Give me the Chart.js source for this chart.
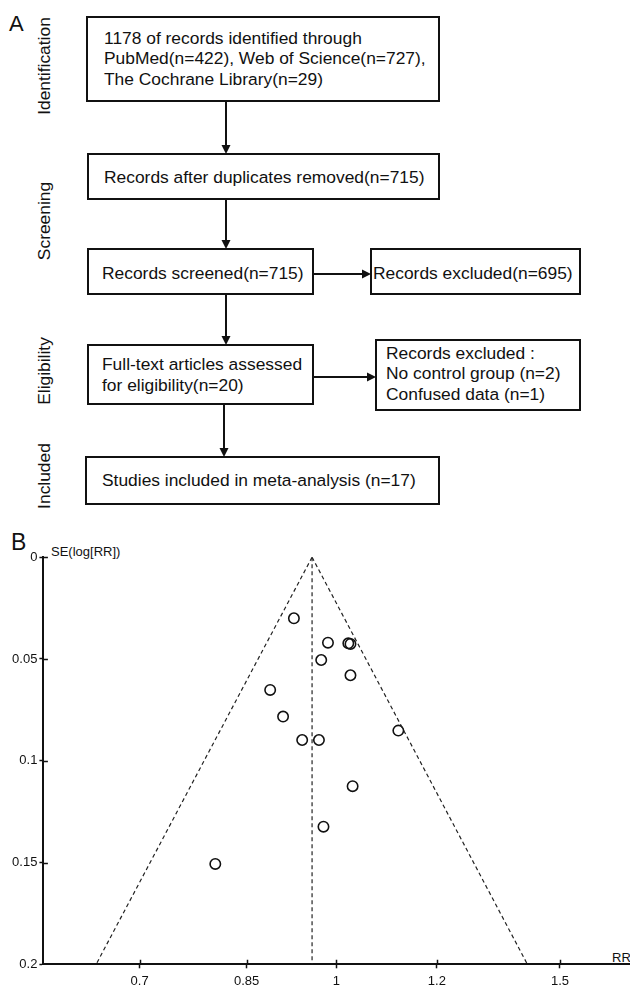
<!DOCTYPE html>
<html>
<head>
<meta charset="utf-8">
<script src="https://cdn.jsdelivr.net/npm/chart.js@4.4.1/dist/chart.umd.min.js"></script>
<style>
  html, body { margin:0; padding:0; background:#fff; }
  body { width:630px; height:986px; position:relative; overflow:hidden;
         font-family:"Liberation Sans", Arial, Helvetica, sans-serif; color:#111; }
  .box { position:absolute; border:2px solid #111; box-sizing:border-box; }
  .t { position:absolute; font-size:17.4px; line-height:20.5px; white-space:nowrap; }
  .side { position:absolute; left:44px; font-size:17.4px; line-height:20px; white-space:nowrap;
          transform: translate(-50%,-50%) rotate(-90deg); }
  .panel { position:absolute; font-size:22px; line-height:22px; }
  .lbl { position:absolute; font-size:13px; line-height:14px; white-space:nowrap; }
  #plotWrap { position:absolute; left:0; top:530px; width:630px; height:456px; }
</style>
</head>
<body>
<!-- Panel A: flow diagram -->
<div class="panel" style="left:9px; top:13px;">A</div>
<div class="side" style="top:66px;">Identification</div>
<div class="side" style="top:221px;">Screening</div>
<div class="side" style="top:371px;">Eligibility</div>
<div class="side" style="top:476px;">Included</div>

<div class="box" style="left:86px; top:16px; width:354px; height:86px;"></div>
<div class="t" style="left:104px; top:27.5px;">1178 of records identified through<br>PubMed(n=422), Web of Science(n=727),<br>The Cochrane Library(n=29)</div>

<div class="box" style="left:87px; top:153px; width:353px; height:47px;"></div>
<div class="t" style="left:104px; top:166.5px;">Records after duplicates removed(n=715)</div>

<div class="box" style="left:87px; top:248px; width:227px; height:47px;"></div>
<div class="t" style="left:102px; top:262.5px;">Records screened(n=715)</div>

<div class="box" style="left:370px; top:248px; width:211px; height:47px;"></div>
<div class="t" style="left:373px; top:262.5px;">Records excluded(n=695)</div>

<div class="box" style="left:87px; top:344px; width:227px; height:61px;"></div>
<div class="t" style="left:102px; top:353.5px; line-height:21px;">Full-text articles assessed<br>for eligibility(n=20)</div>

<div class="box" style="left:375px; top:339px; width:206px; height:72px;"></div>
<div class="t" style="left:386px; top:342.5px;">Records excluded :<br>No control group (n=2)<br>Confused data (n=1)</div>

<div class="box" style="left:85px; top:456px; width:355px; height:49px;"></div>
<div class="t" style="left:102px; top:469.5px;">Studies included in meta-analysis (n=17)</div>

<svg width="630" height="530" style="position:absolute; left:0; top:0;" xmlns="http://www.w3.org/2000/svg">
  <g stroke="#111" stroke-width="2" fill="none">
    <line x1="226" y1="101" x2="226" y2="146"/>
    <line x1="226" y1="199" x2="226" y2="241"/>
    <line x1="226" y1="294" x2="226" y2="337"/>
    <line x1="224" y1="404" x2="224" y2="449"/>
    <line x1="313" y1="274" x2="363" y2="274"/>
    <line x1="313" y1="377" x2="368" y2="377"/>
  </g>
  <g fill="#111">
    <polygon points="221.5,145 230.5,145 226,154"/>
    <polygon points="221.5,240 230.5,240 226,249"/>
    <polygon points="221.5,336 230.5,336 226,345"/>
    <polygon points="219.5,448 228.5,448 224,457"/>
    <polygon points="362,269.5 362,278.5 371,274"/>
    <polygon points="367,372.5 367,381.5 376,377"/>
  </g>
</svg>

<!-- Panel B: funnel plot -->
<div class="panel" style="left:11px; top:531px; font-size:23px;">B</div>
<div class="lbl" style="left:51px; top:545px;">SE(log[RR])</div>
<div class="lbl" style="left:612px; top:951px;">RR</div>
<div id="plotWrap"><canvas id="c"></canvas></div>

<script>
// ---- data ----
const studyRR = [0.926, 0.985, 1.022, 1.026, 0.973, 1.026, 0.887, 0.908, 1.119, 0.940, 0.969, 1.030, 0.977, 0.803];
const studySE = [0.0300, 0.0420, 0.0423, 0.0426, 0.0505, 0.0580, 0.0652, 0.0783, 0.0852, 0.0898, 0.0898, 0.1125, 0.1324, 0.1507];
const pooledRR = 0.957;
const funnelTopSE = 0;
const funnelBottomSE = 0.2;
const funnelLeftRR = 0.647;
const funnelRightRR = 1.414;
const xTicks = [0.7, 0.85, 1, 1.2, 1.5];
const xTickLabels = ['0.7', '0.85', '1', '1.2', '1.5'];
const yTicks = [0, 0.05, 0.1, 0.15, 0.2];
const yTickLabels = ['0', '0.05', '0.1', '0.15', '0.2'];
const xMin = 0.588, xMax = 1.70;

const points = studyRR.map((r, i) => ({ x: r, y: studySE[i] }));

const innerTicks = {
  id: 'innerTicks',
  afterDraw(chart) {
    const { ctx, chartArea, scales } = chart;
    ctx.save();
    ctx.strokeStyle = '#111';
    ctx.lineWidth = 1.5;
    ctx.beginPath();
    xTicks.forEach(v => {
      const px = Math.round(scales.x.getPixelForValue(v)) + 0.5;
      ctx.moveTo(px, chartArea.bottom);
      ctx.lineTo(px, chartArea.bottom - 4.5);
    });
    yTicks.forEach((v, i) => {
      if (i === yTicks.length - 1) return;
      const py = Math.round(scales.y.getPixelForValue(v)) + 0.5;
      ctx.moveTo(chartArea.left, py);
      ctx.lineTo(chartArea.left + 4.5, py);
    });
    ctx.stroke();
    ctx.restore();
  }
};

const font13 = { family: '"Liberation Sans", Arial, sans-serif', size: 13 };
const dashLine = {
  showLine: true, pointRadius: 0, borderColor: '#222', borderWidth: 1.2,
  borderDash: [4, 3], fill: false
};

new Chart(document.getElementById('c'), {
  type: 'scatter',
  data: {
    datasets: [
      Object.assign({ data: [{ x: pooledRR, y: funnelTopSE }, { x: pooledRR, y: funnelBottomSE }] }, dashLine),
      Object.assign({ data: [{ x: pooledRR, y: funnelTopSE }, { x: funnelLeftRR, y: funnelBottomSE }] }, dashLine),
      Object.assign({ data: [{ x: pooledRR, y: funnelTopSE }, { x: funnelRightRR, y: funnelBottomSE }] }, dashLine),
      {
        data: points, showLine: false, pointStyle: 'circle', pointRadius: 5.2,
        pointBorderWidth: 1.6, pointBorderColor: '#111', pointBackgroundColor: 'rgba(255,255,255,0)'
      }
    ]
  },
  options: {
    responsive: true, maintainAspectRatio: false, animation: false,
    layout: { autoPadding: false, padding: { top: 27.2, right: 1, bottom: 0, left: 0 } },
    plugins: { legend: { display: false }, tooltip: { enabled: false } },
    scales: {
      x: {
        type: 'logarithmic', position: 'bottom', min: xMin, max: xMax,
        afterBuildTicks: s => { s.ticks = xTicks.map(v => ({ value: v })); },
        afterFit: s => { s.height = 21.7; s.paddingLeft = 0; s.paddingRight = 0; },
        ticks: { color: '#111', font: font13, padding: 5, maxRotation: 0, autoSkip: false,
                 callback: (v, i) => xTickLabels[i] },
        grid: { drawOnChartArea: false, drawTicks: true, tickLength: 4, tickColor: '#111', tickWidth: 1.5 },
        border: { display: true, color: '#111', width: 2 }
      },
      y: {
        type: 'linear', position: 'left', reverse: true, min: 0, max: 0.2,
        afterBuildTicks: s => { s.ticks = yTicks.map(v => ({ value: v })); },
        afterFit: s => { s.width = 43.4; s.paddingTop = 0; s.paddingBottom = 0; },
        ticks: { color: '#111', font: font13, padding: 2, autoSkip: false,
                 callback: (v, i) => yTickLabels[i] },
        grid: { drawOnChartArea: false, drawTicks: true, tickLength: 4, tickColor: '#111', tickWidth: 1.5 },
        border: { display: true, color: '#111', width: 2 }
      }
    }
  },
  plugins: [innerTicks]
});
</script>
</body>
</html>
